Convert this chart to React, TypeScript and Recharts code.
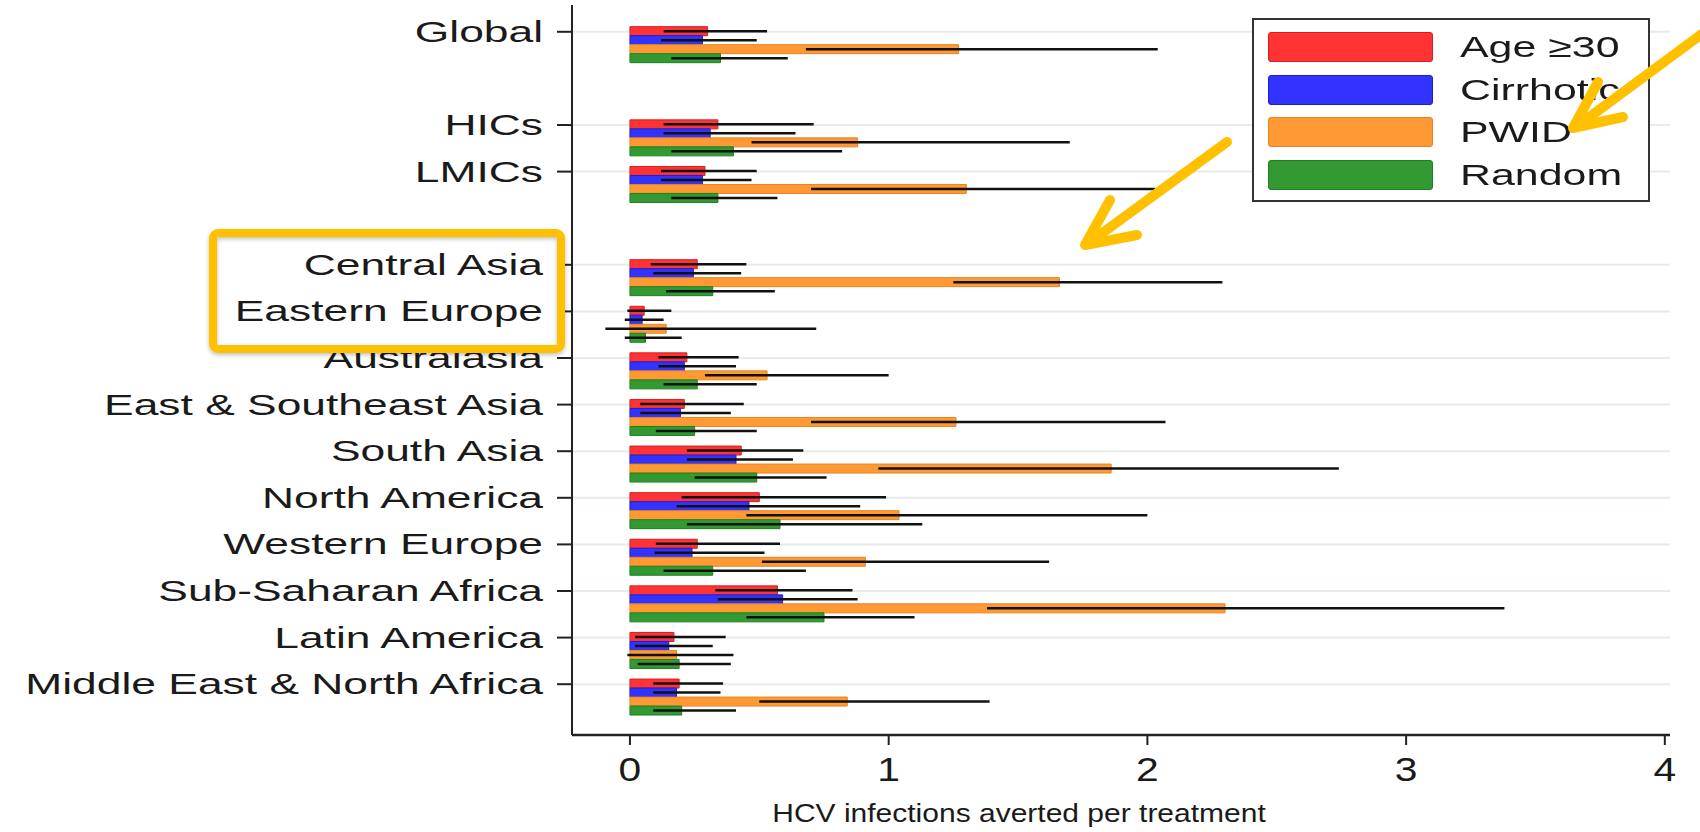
import React from "react";
import { BarChart, Bar, XAxis, YAxis, ErrorBar, CartesianGrid } from "recharts";

const regions = [
  "Global", "gap1", "HICs", "LMICs", "gap2", "Central Asia", "Eastern Europe", "Australasia",
  "East & Southeast Asia", "South Asia", "North America", "Western Europe",
  "Sub-Saharan Africa", "Latin America", "Middle East & North Africa",
];

// point estimates and 95% intervals (null = spacer row)
const age = [0.30, null, 0.34, 0.29, null, 0.26, 0.055, 0.22, 0.21, 0.43, 0.50, 0.26, 0.57, 0.17, 0.19];
const ageLo = [0.13, null, 0.13, 0.12, null, 0.08, -0.01, 0.11, 0.04, 0.22, 0.20, 0.10, 0.33, 0.02, 0.09];
const ageHi = [0.53, null, 0.71, 0.49, null, 0.45, 0.16, 0.42, 0.44, 0.67, 0.99, 0.58, 0.86, 0.37, 0.36];

const cirr = [0.28, null, 0.31, 0.28, null, 0.245, 0.047, 0.21, 0.195, 0.41, 0.46, 0.24, 0.59, 0.15, 0.18];
const cirrLo = [0.12, null, 0.13, 0.12, null, 0.09, -0.02, 0.11, 0.04, 0.22, 0.18, 0.095, 0.34, 0.02, 0.09];
const cirrHi = [0.49, null, 0.64, 0.47, null, 0.43, 0.13, 0.41, 0.39, 0.63, 0.89, 0.52, 0.88, 0.32, 0.35];

const pwid = [1.27, null, 0.88, 1.30, null, 1.66, 0.14, 0.53, 1.26, 1.86, 1.04, 0.91, 2.30, 0.18, 0.84];
const pwidLo = [0.68, null, 0.47, 0.70, null, 1.25, -0.095, 0.29, 0.70, 0.96, 0.45, 0.51, 1.38, -0.01, 0.50];
const pwidHi = [2.04, null, 1.70, 2.03, null, 2.29, 0.72, 1.00, 2.07, 2.74, 2.00, 1.62, 3.38, 0.40, 1.39];

const rand = [0.35, null, 0.40, 0.34, null, 0.32, 0.06, 0.26, 0.25, 0.49, 0.58, 0.32, 0.75, 0.19, 0.20];
const randLo = [0.16, null, 0.16, 0.16, null, 0.14, -0.02, 0.13, 0.10, 0.25, 0.22, 0.13, 0.45, 0.03, 0.09];
const randHi = [0.61, null, 0.82, 0.57, null, 0.56, 0.20, 0.49, 0.49, 0.76, 1.13, 0.68, 1.10, 0.39, 0.41];

const xTicks = [0, 1, 2, 3, 4];

const series = [
  { key: "age", name: "Age \u226530", fill: "#ff3333", stroke: "#d81e1e" },
  { key: "cirr", name: "Cirrhotic", fill: "#3333ff", stroke: "#1e1ed0" },
  { key: "pwid", name: "PWID", fill: "#ff9933", stroke: "#e88420" },
  { key: "rand", name: "Random", fill: "#339933", stroke: "#1f801f" },
];

const err = (v: number | null, lo: number | null, hi: number | null) =>
  v == null || lo == null || hi == null ? null : [v - lo, hi - v];

const rows = regions.map((region, i) => ({
  region,
  age: age[i], ageErr: err(age[i], ageLo[i], ageHi[i]),
  cirr: cirr[i], cirrErr: err(cirr[i], cirrLo[i], cirrHi[i]),
  pwid: pwid[i], pwidErr: err(pwid[i], pwidLo[i], pwidHi[i]),
  rand: rand[i], randErr: err(rand[i], randLo[i], randHi[i]),
}));

const FONT = '"Liberation Sans", Arial, Helvetica, sans-serif';
const TICK_SHIFT = 13.5; // labels sit at the top bar of each group
const PAD_TOP = 17;
const PAD_BOTTOM = 14;

const RegionTick = ({ x, y, payload }: any) => {
  const name = String(payload.value);
  if (name.startsWith("gap")) return <g />;
  const ty = y - TICK_SHIFT;
  return (
    <g>
      <line x1={x - 15} x2={x} y1={ty} y2={ty} stroke="#222" strokeWidth={2} />
      <text transform={`translate(${x - 29},${ty}) scale(1.53,1)`} textAnchor="end" dominantBaseline="central"
        fontFamily={FONT} fontSize={29} fill="#1a1a1a">{name}</text>
    </g>
  );
};

const ValueTick = ({ x, y, payload }: any) => (
  <text transform={`translate(${x},${y + 34}) scale(1.2,1)`} textAnchor="middle"
    fontFamily={FONT} fontSize={34} fill="#1a1a1a">{payload.value}</text>
);

// grid rows follow the shifted region ticks, skipping the spacer rows
const gridRows = ({ offset }: any) => {
  const band = (offset.height - PAD_TOP - PAD_BOTTOM) / regions.length;
  const start = offset.top + PAD_TOP;
  return regions
    .map((r, i) => (r.startsWith("gap") ? null : start + (i + 0.5) * band - TICK_SHIFT))
    .filter((v) => v != null) as number[];
};

const LegendBox = () => (
  <div style={{ position: "absolute", left: 1252, top: 18, width: 398, height: 184, border: "2px solid #333", background: "#fff", boxSizing: "border-box" }}>
    {series.map((s, i) => (
      <div key={s.key} style={{ position: "absolute", left: 14, top: 12 + i * 42.5, height: 30, display: "flex", alignItems: "center" }}>
        <div style={{ width: 165, height: 30, background: s.fill, border: `1.5px solid ${s.stroke}`, borderRadius: 3, boxSizing: "border-box" }} />
        <span style={{ marginLeft: 27, fontFamily: FONT, fontSize: 30, color: "#1a1a1a", transform: "scale(1.43,1)", transformOrigin: "left center", whiteSpace: "nowrap" }}>{s.name}</span>
      </div>
    ))}
  </div>
);

const Annotations = () => (
  <svg width={1700} height={832} style={{ position: "absolute", left: 0, top: 0, pointerEvents: "none" }}>
    <defs>
      <filter id="sh" x="-10%" y="-10%" width="120%" height="130%">
        <feDropShadow dx="0" dy="2" stdDeviation="2" floodColor="#000" floodOpacity="0.25" />
      </filter>
    </defs>
    <rect x={213} y={233} width={348} height={116} rx={5} fill="none" stroke="#FFC000" strokeWidth={8} filter="url(#sh)" />
    <g stroke="#FFC000" strokeWidth={10} strokeLinecap="round" strokeLinejoin="round" fill="none">
      <line x1={1227} y1={142} x2={1090} y2={242} />
      <polyline points="1110,200 1085,245 1137,235" />
      <line x1={1710} y1={28} x2={1580} y2={124} />
      <polyline points="1598,82 1573,128 1623,117" />
    </g>
  </svg>
);

export default function App() {
  return (
    <div style={{ position: "absolute", left: 0, top: 0, width: 1700, height: 832, background: "#fff", overflow: "hidden" }}>
      <BarChart layout="vertical" width={1700} height={832} data={rows}
        margin={{ top: 5, right: 30, bottom: 0, left: 0 }} barCategoryGap="10%" barGap={0}>
        <CartesianGrid vertical={false} stroke="#e4ecec" strokeWidth={2} horizontalCoordinatesGenerator={gridRows} />
        <XAxis type="number" domain={[-0.224, 4.02]} ticks={xTicks} allowDataOverflow height={97}
          axisLine={{ stroke: "#222", strokeWidth: 2.5 }} tickLine={{ stroke: "#222", strokeWidth: 2 }}
          tickSize={10} tickMargin={2} tick={<ValueTick />}
          label={{
            content: ({ viewBox }: any) => (
              <text transform={`translate(${viewBox.x + 447},${viewBox.y + 87}) scale(1.2,1)`} textAnchor="middle"
                fontFamily={FONT} fontSize={25} fill="#1a1a1a">HCV infections averted per treatment</text>
            ),
          }} />
        <YAxis type="category" dataKey="region" width={572} padding={{ top: PAD_TOP, bottom: PAD_BOTTOM }} interval={0}
          axisLine={{ stroke: "#222", strokeWidth: 2 }} tickLine={false} tickSize={0} tickMargin={0} tick={<RegionTick />} />
        {series.map((s) => (
          <Bar key={s.key} dataKey={s.key} name={s.name} fill={s.fill} stroke={s.stroke} strokeWidth={1} isAnimationActive={false}>
            <ErrorBar dataKey={`${s.key}Err`} direction="x" width={0} stroke="#111" strokeWidth={2.5} isAnimationActive={false} />
          </Bar>
        ))}
      </BarChart>
      <LegendBox />
      <Annotations />
    </div>
  );
}
